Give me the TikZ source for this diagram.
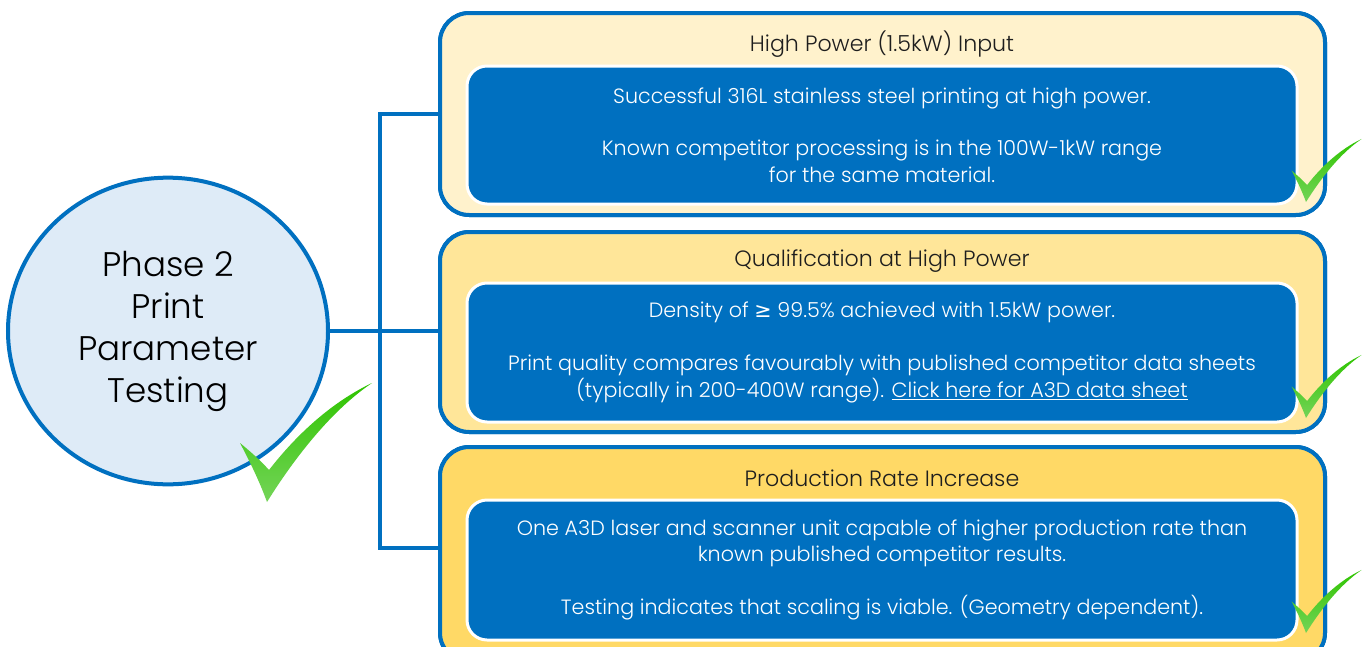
\documentclass[tikz,border=0pt]{standalone}
\usepackage{fontspec}
\setmainfont{Poppins Light}
\newfontfamily\symf{DejaVu Sans}
\usetikzlibrary{shapes.geometric}
\definecolor{mblue}{HTML}{0070C0}
\definecolor{cfill}{HTML}{DEEBF7}
\definecolor{pa}{HTML}{FFF2CC}
\definecolor{pb}{HTML}{FFE699}
\definecolor{pc}{HTML}{FFD966}
\definecolor{gtop}{HTML}{2EC400}
\definecolor{gbot}{HTML}{74D458}
\definecolor{tdark}{HTML}{1E1E1E}
\begin{document}
\begin{tikzpicture}[x=0.75pt,y=-0.75pt,
  panel/.style={draw=mblue, line width=3pt, rounded corners=22pt, minimum width=663.75pt, inner sep=0pt},
  innerbox/.style={draw=white, line width=2.25pt, fill=mblue, rounded corners=15pt, minimum width=622.5pt, inner sep=0pt, text=white, align=center, font=\fontsize{15.5}{19.8}\selectfont},
  titletext/.style={text=tdark, font=\fontsize{16.6}{18}\selectfont},
  conn/.style={draw=mblue, line width=3pt},
  check/.pic={\shade[top color=gtop,bottom color=gbot] (0,0) .. controls (-8,-22) and (-18,-42) .. (-27,-59) .. controls (-16,-50) and (-6,-41) .. (2,-32) .. controls (30,-68) and (65,-100) .. (105,-119) .. controls (65,-92) and (28,-45) .. (0,0) -- cycle;}
]
\useasboundingbox (0,0) rectangle (1370,646);
\clip (0,0) rectangle (1370,646);
\fill[white] (0,0) rectangle (1370,646);

% panel placement nodes
\node[panel, fill=pa, minimum height=151.5pt] (p1) at (882.5,114) {};
\node[panel, fill=pb, minimum height=150pt] (p2) at (882.5,332) {};
\node[panel, fill=pc, minimum height=161.25pt] (p3) at (882.5,554.5) {};

\coordinate (j1) at (380,114);
\coordinate (j3) at (380,548);

\node[ellipse, draw=mblue, fill=cfill, line width=3pt, minimum width=240pt, minimum height=230pt, inner sep=0pt, align=center, text=black, font=\fontsize{25.6}{31.5}\selectfont] (c) at (168,331) {Phase 2\\Print\\Parameter\\Testing};

% connectors
\draw[conn] (c.east) -- (c.east -| p2.west);
\draw[conn] (j1 -| p1.west) -- (j1) -- (j3) -- (j3 -| p3.west);

% panels drawn over connector ends
\node[panel, fill=pa, minimum height=151.5pt] at (p1) {};
\node[panel, fill=pb, minimum height=150pt] at (p2) {};
\node[panel, fill=pc, minimum height=161.25pt] at (p3) {};

% titles
\node[titletext] (t1) at (882,44) {High Power (1.5kW) Input};
\node[titletext] (t2) at (882,261) {Qualification at High Power};
\node[titletext] (t3) at (882,478) {Production Rate Increase};

% inner boxes
\node[innerbox, minimum height=103.5pt] (b1) at (882,135) {Successful 316L stainless steel printing at high power.\\[19.8pt]Known competitor processing is in the 100W-1kW range\\for the same material.};
\node[innerbox, minimum height=104.25pt] (b2) at (882,352.5) {Density of {\symf ≥} 99.5\% achieved with 1.5kW power.\\[19.8pt]Print quality compares favourably with published competitor data sheets\\(typically in 200-400W range). \underline{Click here for A3D data sheet}};
\node[innerbox, minimum height=105pt] (b3) at (882,570) {One A3D laser and scanner unit capable of higher production rate than\\known published competitor results.\\[19.8pt]Testing indicates that scaling is viable. (Geometry dependent).};

% checks
\pic at (267,502) {check};
\pic[scale=0.53] at (1306,202) {check};
\pic[scale=0.53] at (1306,418) {check};
\pic[scale=0.53] at (1306,633) {check};
\end{tikzpicture}
\end{document}
